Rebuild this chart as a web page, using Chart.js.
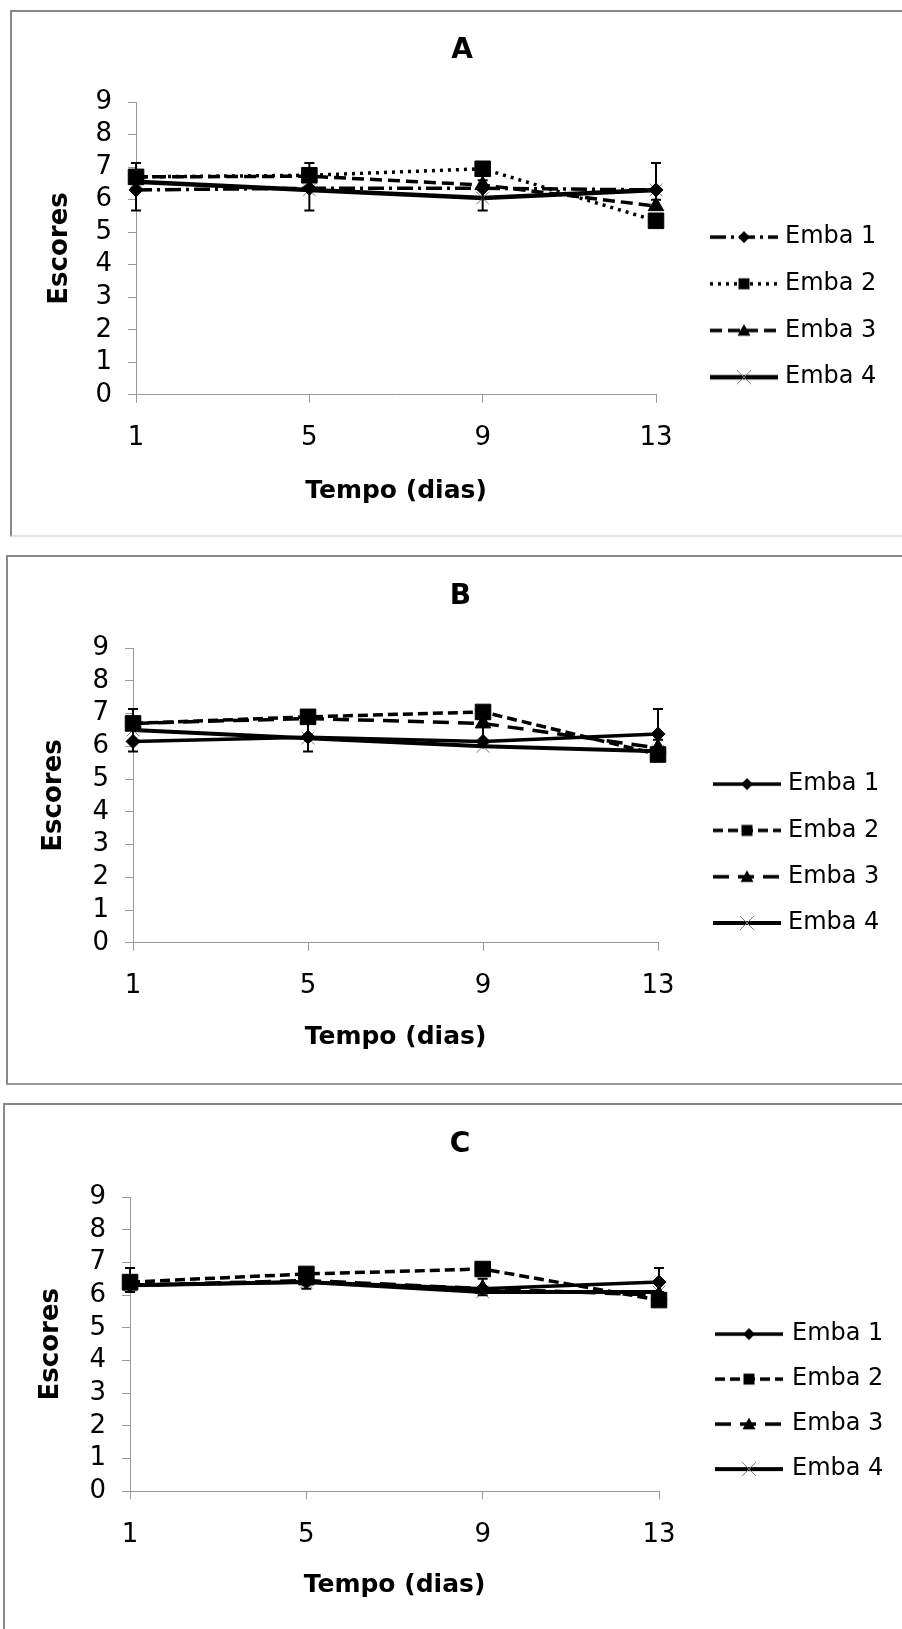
<!DOCTYPE html>
<html lang="pt">
<head>
<meta charset="UTF-8">
<title>Escores por embalagem</title>
<script src="https://cdn.jsdelivr.net/npm/chart.js"></script>
<style>
  html, body { margin: 0; padding: 0; background: #fff; overflow: hidden; }
  body { width: 902px; height: 1629px; position: relative; }
  .panel { position: absolute; width: 900px; border-left: 2px solid #888; border-top: 2px solid #888; }
  .panel canvas { display: block; }
  #panelA { left: 10px; top: 10px; height: 523px; border-bottom: 2px solid #e2e2e2; }
  #panelB { left: 6px; top: 555px; height: 526px; border-bottom: 2px solid #9a9a9a; }
  #panelC { left: 3px; top: 1103px; height: 530px; }
</style>
</head>
<body>
  <div class="panel" id="panelA"><canvas id="chartA" width="888" height="523"></canvas></div>
  <div class="panel" id="panelB"><canvas id="chartB" width="888" height="526"></canvas></div>
  <div class="panel" id="panelC"><canvas id="chartC" width="888" height="526"></canvas></div>

<script>
  const days = ['1', '5', '9', '13'];
  const seriesNames = ['Emba 1', 'Emba 2', 'Emba 3', 'Emba 4'];

  // panel A
  const aEmba1 = [6.3, 6.35, 6.35, 6.3];
  const aEmba2 = [6.7, 6.75, 6.95, 5.35];
  const aEmba3 = [6.7, 6.72, 6.45, 5.8];
  const aEmba4 = [6.55, 6.3, 6.05, 6.3];
  const aErrLow = [5.67, 5.67, 5.67, 6.0];
  const aErrHigh = [7.13, 7.13, 6.6, 7.13];

  // panel B
  const bEmba1 = [6.15, 6.28, 6.15, 6.38];
  const bEmba2 = [6.7, 6.9, 7.05, 5.75];
  const bEmba3 = [6.7, 6.85, 6.7, 5.95];
  const bEmba4 = [6.5, 6.25, 6.0, 5.85];
  const bErrLow = [5.84, 5.84, 6.0, 6.2];
  const bErrHigh = [7.14, 6.9, 6.9, 7.14];

  // panel C
  const cEmba1 = [6.3, 6.4, 6.2, 6.4];
  const cEmba2 = [6.4, 6.65, 6.8, 5.85];
  const cEmba3 = [6.3, 6.45, 6.2, 6.0];
  const cEmba4 = [6.3, 6.4, 6.1, 6.1];
  const cErrLow = [6.1, 6.2, 6.0, 6.1];
  const cErrHigh = [6.83, 6.6, 6.5, 6.83];

  Chart.defaults.font.family = "'DejaVu Sans', sans-serif";
  Chart.defaults.color = '#000';

  // line / marker look of each series
  const stylesA = [
    { dash: [16, 5, 3, 5], marker: 'rectRot', radius: 7, width: 3.5, legR: 6 },
    { dash: [3, 5], marker: 'rect', radius: 11, width: 3.5, legR: 5.5 },
    { dash: [12, 6], marker: 'triangle', radius: 9, width: 3.5, legR: 6.5 },
    { dash: [], marker: 'crossRot', radius: 9, width: 4.5, legR: 7 }
  ];
  const stylesBC = [
    { dash: [], marker: 'rectRot', radius: 7, width: 3.5, legR: 6 },
    { dash: [10, 5], marker: 'rect', radius: 11, width: 3.5, legR: 5.5 },
    { dash: [16, 9], marker: 'triangle', radius: 9, width: 3.5, legR: 6.5 },
    { dash: [], marker: 'crossRot', radius: 9, width: 4, legR: 7 }
  ];

  function drawMarker(g, style, x, y, r) {
    g.beginPath();
    if (style === 'rect') {
      g.rect(x - r, y - r, 2 * r, 2 * r); g.fill();
    } else if (style === 'rectRot') {
      g.moveTo(x, y - r); g.lineTo(x + r, y); g.lineTo(x, y + r); g.lineTo(x - r, y); g.closePath(); g.fill();
    } else if (style === 'triangle') {
      g.moveTo(x, y - r); g.lineTo(x + r, y + r * 0.8); g.lineTo(x - r, y + r * 0.8); g.closePath(); g.fill();
    } else {
      g.strokeStyle = '#777'; g.lineWidth = 1;
      g.moveTo(x - r, y - r); g.lineTo(x + r, y + r);
      g.moveTo(x + r, y - r); g.lineTo(x - r, y + r); g.stroke();
    }
  }

  // legend symbol: short line with the marker in the middle
  function legendIcon(st, w) {
    const c = document.createElement('canvas');
    c.width = w; c.height = 22;
    const g = c.getContext('2d');
    g.strokeStyle = '#000'; g.fillStyle = '#000';
    g.lineWidth = st.width;
    g.setLineDash(st.dash);
    g.beginPath(); g.moveTo(0, 11); g.lineTo(w, 11); g.stroke();
    g.setLineDash([]);
    drawMarker(g, st.marker, w / 2, 11, st.legR);
    return c;
  }

  function errorBars(low, high) {
    return {
      id: 'errorBars',
      afterDatasetsDraw(chart) {
        const { ctx, scales: { x, y } } = chart;
        ctx.save();
        ctx.strokeStyle = '#000';
        ctx.lineWidth = 2;
        low.forEach((lo, i) => {
          const px = x.getPixelForValue(i);
          const y1 = y.getPixelForValue(lo), y2 = y.getPixelForValue(high[i]);
          ctx.beginPath();
          ctx.moveTo(px, y1); ctx.lineTo(px, y2);
          ctx.moveTo(px - 5, y1); ctx.lineTo(px + 5, y1);
          ctx.moveTo(px - 5, y2); ctx.lineTo(px + 5, y2);
          ctx.stroke();
        });
        ctx.restore();
      }
    };
  }

  // legend drawn beside the plot area, one row per dataset
  function sideLegend(icons, g) {
    return {
      id: 'sideLegend',
      afterDraw(chart) {
        const { ctx, chartArea } = chart;
        ctx.save();
        ctx.font = "24px 'DejaVu Sans', sans-serif";
        ctx.fillStyle = '#000';
        ctx.textBaseline = 'middle';
        chart.data.datasets.forEach((ds, i) => {
          const y = chartArea.top + g.legY + i * g.legGap;
          const x = chartArea.right + g.legX;
          ctx.drawImage(icons[i], x, y - icons[i].height / 2);
          ctx.fillText(ds.label, x + icons[i].width + g.legText, y);
        });
        ctx.restore();
      }
    };
  }

  function makeChart(id, title, series, styles, errLow, errHigh, g) {
    const icons = styles.map(st => legendIcon(st, 68));
    const datasets = series.map((vals, i) => ({
      label: seriesNames[i],
      data: vals,
      borderColor: '#000',
      backgroundColor: '#000',
      borderWidth: styles[i].width,
      borderDash: styles[i].dash,
      pointStyle: styles[i].marker,
      pointRadius: styles[i].radius,
      pointBackgroundColor: '#000',
      pointBorderColor: styles[i].marker === 'crossRot' ? '#777' : '#000',
      pointBorderWidth: 1,
      tension: 0,
      fill: false
    }));

    const axisGrid = { display: true, drawOnChartArea: false, tickLength: 8, color: '#999' };

    return new Chart(document.getElementById(id), {
      type: 'line',
      data: { labels: days, datasets },
      plugins: [errorBars(errLow, errHigh), sideLegend(icons, g)],
      options: {
        responsive: false,
        animation: false,
        devicePixelRatio: 1,
        layout: { padding: g.pad },
        plugins: {
          tooltip: { enabled: false },
          legend: { display: false },
          title: {
            display: true, text: title, color: '#000',
            font: { size: 28, weight: 'bold' },
            padding: g.titlePad
          }
        },
        scales: {
          x: {
            grid: axisGrid,
            border: { color: '#999' },
            ticks: { color: '#000', padding: 20, font: { size: 26 }, maxRotation: 0 },
            title: { display: true, text: 'Tempo (dias)', color: '#000', font: { size: 25, weight: 'bold' }, padding: g.xTitlePad }
          },
          y: {
            min: 0, max: 9,
            grid: axisGrid,
            border: { color: '#999' },
            ticks: { stepSize: 1, autoSkip: false, color: '#000', padding: 16, font: { size: 26 } },
            title: { display: true, text: 'Escores', color: '#000', font: { size: 26, weight: 'bold' }, padding: g.yTitlePad }
          },
          // empty right-hand strip that keeps room for the legend
          legendSpace: {
            position: 'right',
            grid: { display: false },
            border: { display: false },
            ticks: { display: false },
            afterFit: s => { s.width = g.rightSpace; }
          }
        }
      }
    });
  }

  makeChart('chartA', 'A', [aEmba1, aEmba2, aEmba3, aEmba4], stylesA, aErrLow, aErrHigh, {
    pad: { top: 0, left: 25, right: 13, bottom: 25 },
    titlePad: { top: 22, bottom: 34.5 },
    xTitlePad: { top: 2, bottom: 4 },
    yTitlePad: { top: 7.5, bottom: 3.8 },
    rightSpace: 231,
    legX: 54, legText: 7, legY: 135, legGap: 46.7
  });

  makeChart('chartB', 'B', [bEmba1, bEmba2, bEmba3, bEmba4], stylesBC, bErrLow, bErrHigh, {
    pad: { top: 0, left: 23, right: 6, bottom: 27 },
    titlePad: { top: 23, bottom: 34.5 },
    xTitlePad: { top: 0, bottom: 4 },
    yTitlePad: { top: 7.5, bottom: 6.8 },
    rightSpace: 232,
    legX: 55, legText: 7, legY: 136, legGap: 46.3
  });

  makeChart('chartC', 'C', [cEmba1, cEmba2, cEmba3, cEmba4], stylesBC, cErrLow, cErrHigh, {
    pad: { top: 0, left: 23, right: 1, bottom: 26.5 },
    titlePad: { top: 23, bottom: 35.5 },
    xTitlePad: { top: 0, bottom: 4 },
    yTitlePad: { top: 7.5, bottom: 6.8 },
    rightSpace: 233,
    legX: 56, legText: 9, legY: 137, legGap: 45
  });
</script>
</body>
</html>
